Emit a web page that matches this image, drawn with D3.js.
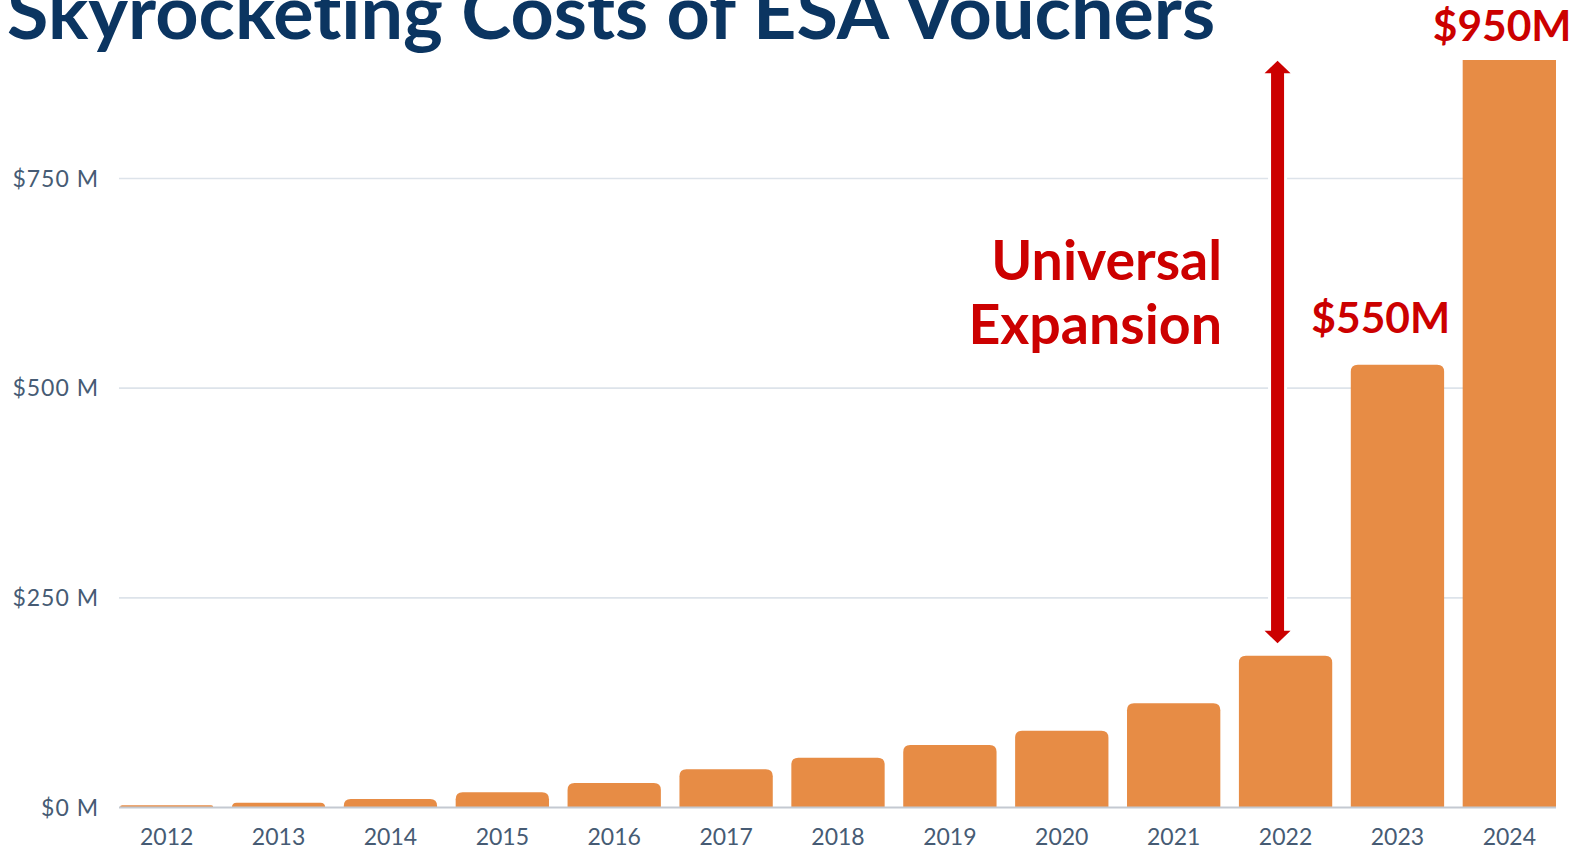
<!DOCTYPE html>
<html>
<head>
<meta charset="utf-8">
<script src="https://cdn.jsdelivr.net/npm/d3@7"></script>
<style>
  html, body { margin: 0; padding: 0; background: #ffffff; }
  svg { display: block; }
</style>
</head>
<body>
<svg id="chart" width="1583" height="851"></svg>
<script>
// ---- data ----
const years = ["2012","2013","2014","2015","2016","2017","2018","2019","2020","2021","2022","2023","2024"];
const costs = [2.6, 5.7, 10.1, 18.1, 29.2, 45.5, 59.4, 74.5, 91.5, 124.2, 181, 528, 950]; // $ millions
const yTicks = [0, 250, 500, 750];
const yTickLabels = ["$0 M", "$250 M", "$500 M", "$750 M"];
const titleText = "Skyrocketing Costs of ESA Vouchers";
const annotationLines = ["Universal", "Expansion"];
const valueLabels = [{ year: "2023", text: "$550M" }, { year: "2024", text: "$950M" }];

// ---- layout ----
const svg = d3.select("#chart");
const plotLeft = 119, plotRight = 1556, plotTop = 60;

const x = d3.scaleBand().domain(years).range([120, 1556]).paddingInner(0.166).paddingOuter(0);
const y = d3.scaleLinear().domain([0, 750]).range([807.5, 178.5]);

const orange = "#E78C45";
const red = "#CC0000";
const navy = "#0B3561";
const tickColor = "#465B74";

svg.append("defs").append("clipPath").attr("id", "plotClip")
  .append("rect").attr("x", 0).attr("y", plotTop).attr("width", 1583).attr("height", 851 - plotTop);

// gridlines
svg.append("g").selectAll("line").data(yTicks.filter(d => d > 0)).join("line")
  .attr("x1", plotLeft).attr("x2", plotRight)
  .attr("y1", d => y(d)).attr("y2", d => y(d))
  .attr("stroke", "#DDE3EA").attr("stroke-width", 1.6);

// y tick labels
svg.append("g").selectAll("text").data(yTicks).join("text")
  .attr("x", 99).attr("y", d => y(d)).attr("dy", "0.35em")
  .attr("text-anchor", "end")
  .attr("font-family", "Lato, sans-serif").attr("font-size", 23)
  .attr("letter-spacing", 1)
  .attr("fill", tickColor)
  .text((d, i) => yTickLabels[i]);

// bars with rounded top corners
function barPath(x0, w, yTop, yBase, r) {
  const h = yBase - yTop;
  const rr = Math.min(r, h, w / 2);
  return `M${x0},${yBase}V${yTop + rr}Q${x0},${yTop} ${x0 + rr},${yTop}H${x0 + w - rr}Q${x0 + w},${yTop} ${x0 + w},${yTop + rr}V${yBase}Z`;
}
svg.append("g").attr("clip-path", "url(#plotClip)")
  .selectAll("path").data(years).join("path")
  .attr("d", (d, i) => barPath(x(d), x.bandwidth(), y(costs[i]), y(0), 7))
  .attr("fill", orange);

// baseline
svg.append("line")
  .attr("x1", plotLeft).attr("x2", plotRight)
  .attr("y1", y(0)).attr("y2", y(0))
  .attr("stroke", "#C4C9D1").attr("stroke-width", 2);

// x labels
svg.append("g").selectAll("text").data(years).join("text")
  .attr("x", d => x(d) + x.bandwidth() / 2).attr("y", 845)
  .attr("text-anchor", "middle")
  .attr("font-family", "Lato, sans-serif").attr("font-size", 23)
  .attr("fill", tickColor)
  .text(d => d);

// title
svg.append("text")
  .attr("x", 7).attr("y", 39)
  .attr("font-family", "Lato, sans-serif").attr("font-weight", 700).attr("font-size", 75.5)
  .style("font-variant-ligatures", "none")
  .attr("fill", navy)
  .text(titleText);

// arrow spanning from 2022 bar to top of plot
const ax = x("2022") + x.bandwidth() / 2 - 8;
const aTop = plotTop + 0.7;
const aBot = y(costs[10]) - 12.4;
const sw = 6.5, hw = 13, hh = 12.6;
const arrowPts = [
  [ax, aTop], [ax + hw, aTop + hh], [ax + sw, aTop + hh], [ax + sw, aBot - hh],
  [ax + hw, aBot - hh], [ax, aBot], [ax - hw, aBot - hh], [ax - sw, aBot - hh],
  [ax - sw, aTop + hh], [ax - hw, aTop + hh]
];
svg.append("path")
  .attr("d", d3.line()(arrowPts) + "Z")
  .attr("fill", red)
  .attr("stroke", "#ffffff").attr("stroke-width", 6)
  .attr("paint-order", "stroke")
  .attr("stroke-linejoin", "miter");

// annotation text
svg.append("g").selectAll("text").data(annotationLines).join("text")
  .attr("x", 1222).attr("y", (d, i) => 280 + i * 64)
  .attr("text-anchor", "end")
  .attr("font-family", "Lato, sans-serif").attr("font-weight", 700).attr("font-size", 55.5)
  .attr("fill", red)
  .text(d => d);

// value labels
const labelPos = { "2023": 333.3, "2024": 41 };
svg.append("g").selectAll("text").data(valueLabels).join("text")
  .attr("x", d => x(d.year) + x.bandwidth() + (d.year === "2024" ? 15.5 : 6))
  .attr("y", d => labelPos[d.year])
  .attr("text-anchor", "end")
  .attr("font-family", "Lato, sans-serif").attr("font-weight", 700).attr("font-size", 42.5)
  .attr("fill", red)
  .text(d => d.text);
</script>
</body>
</html>
